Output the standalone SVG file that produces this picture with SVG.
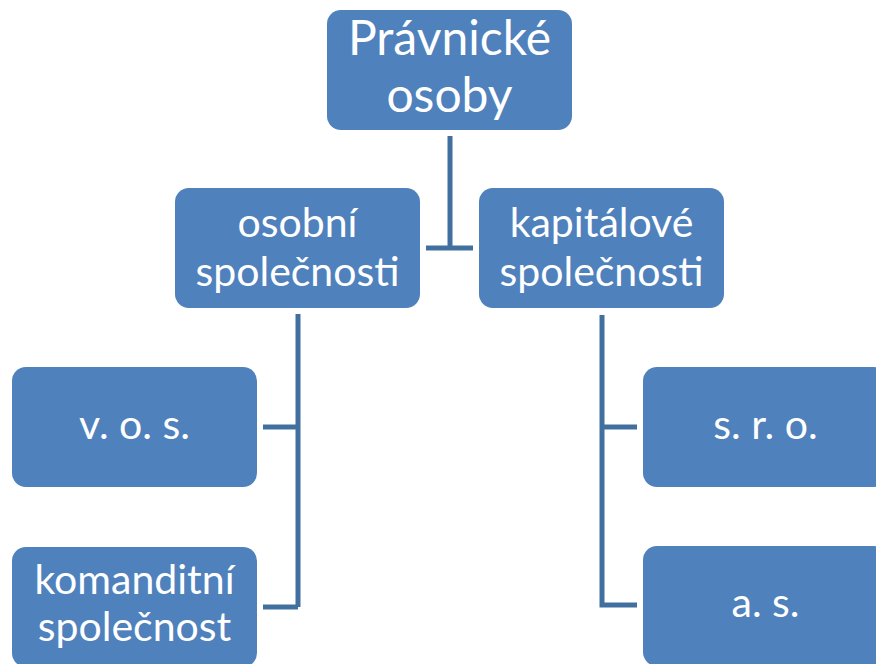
<svg xmlns="http://www.w3.org/2000/svg" width="876" height="664" viewBox="0 0 876 664">
<style>
.box{fill:#4f81bd;}
.t{fill:#ffffff;font-family:Lato,"Open Sans",sans-serif;text-anchor:middle;}
.t1{font-size:48px;}
.t2{font-size:41px;}
.c{fill:none;stroke:#41709f;stroke-width:5;stroke-linejoin:miter;}
</style>
<rect width="876" height="664" fill="#ffffff"/>
<g id="connectors">
<path class="c" d="M450,136 V248 M426,248 H473"/>
<path class="c" d="M298,314 V607 M263,427 H298 M263,607 H298"/>
<path class="c" d="M602,315 V605 H637 M602,427 H637"/>
</g>
<g id="pravnicke">
<rect class="box" x="327" y="10" width="245" height="120" rx="14"/>
<text class="t t1" x="449.5" y="55">Právnické</text>
<text class="t t1" x="449.5" y="112">osoby</text>
</g>
<g id="osobni">
<rect class="box" x="175" y="188" width="245" height="120" rx="14"/>
<text class="t t2" x="297.5" y="237">osobní</text>
<text class="t t2" x="297.5" y="286">společnosti</text>
</g>
<g id="kapitalove">
<rect class="box" x="479" y="188" width="245" height="120" rx="14"/>
<text class="t t2" x="601.5" y="237">kapitálové</text>
<text class="t t2" x="601.5" y="286">společnosti</text>
</g>
<g id="vos">
<rect class="box" x="12" y="367" width="245" height="120" rx="14"/>
<text class="t t2" x="134.5" y="439">v. o. s.</text>
</g>
<g id="komanditni">
<rect class="box" x="12" y="547" width="245" height="120" rx="14"/>
<text class="t t2" x="134.5" y="594">komanditní</text>
<text class="t t2" x="134.5" y="641">společnost</text>
</g>
<g id="sro">
<rect class="box" x="643" y="367" width="245" height="120" rx="14"/>
<text class="t t2" x="765.5" y="439">s. r. o.</text>
</g>
<g id="as">
<rect class="box" x="643" y="546" width="245" height="120" rx="14"/>
<text class="t t2" x="765.5" y="617">a. s.</text>
</g>
</svg>
